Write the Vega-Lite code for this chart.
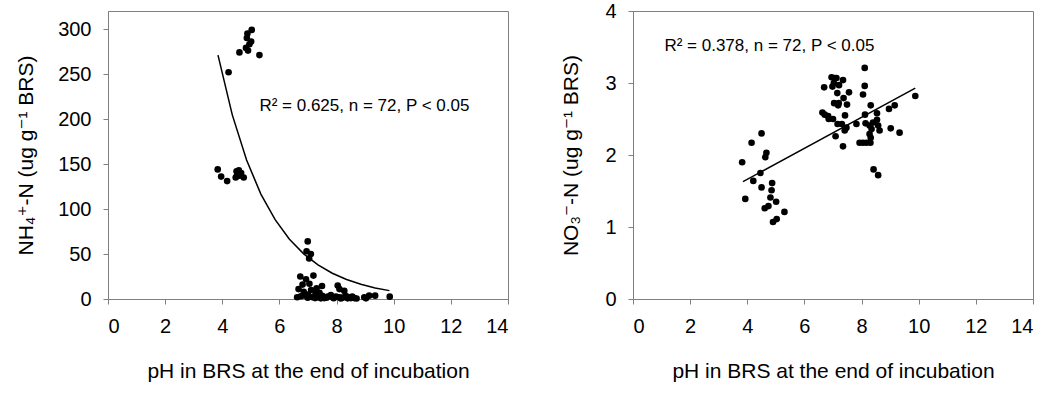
{
  "$schema": "https://vega.github.io/schema/vega-lite/v6.json",
  "padding": {"left": 15, "top": 0, "right": 0, "bottom": 0},
  "config": {
    "font": "Liberation Sans",
    "view": {"stroke": "#7f7f7f", "strokeWidth": 1},
    "axis": {
      "grid": false,
      "domainColor": "#7f7f7f",
      "tickColor": "#7f7f7f",
      "tickSize": 5,
      "labelPadding": 12,
      "labelFont": "Liberation Sans",
      "titleFont": "Liberation Sans, DejaVu Sans",
      "labelFontSize": 20,
      "titleFontSize": 21,
      "titleFontWeight": "normal",
      "labelColor": "#000000",
      "titleColor": "#000000"
    }
  },
  "datasets": {
    "nh4": [
      {"pH": 5.03, "NH4": 299}, {"pH": 4.88, "NH4": 295}, {"pH": 4.86, "NH4": 290}, {"pH": 5.01, "NH4": 286}, {"pH": 4.83, "NH4": 279},
      {"pH": 4.90, "NH4": 276}, {"pH": 4.60, "NH4": 274}, {"pH": 5.30, "NH4": 271}, {"pH": 4.22, "NH4": 252}, {"pH": 4.95, "NH4": 283},
      {"pH": 3.84, "NH4": 144}, {"pH": 3.96, "NH4": 136}, {"pH": 4.17, "NH4": 131}, {"pH": 4.47, "NH4": 135}, {"pH": 4.50, "NH4": 142},
      {"pH": 4.58, "NH4": 143}, {"pH": 4.66, "NH4": 140}, {"pH": 4.75, "NH4": 135}, {"pH": 4.60, "NH4": 137}, {"pH": 4.52, "NH4": 138},
      {"pH": 6.99, "NH4": 64}, {"pH": 6.95, "NH4": 53}, {"pH": 7.10, "NH4": 50}, {"pH": 7.04, "NH4": 45}, {"pH": 6.73, "NH4": 25},
      {"pH": 7.19, "NH4": 26}, {"pH": 6.93, "NH4": 22}, {"pH": 6.67, "NH4": 11}, {"pH": 6.81, "NH4": 16}, {"pH": 7.05, "NH4": 17},
      {"pH": 7.11, "NH4": 10}, {"pH": 6.62, "NH4": 2}, {"pH": 6.87, "NH4": 4}, {"pH": 7.22, "NH4": 3}, {"pH": 7.40, "NH4": 7},
      {"pH": 7.49, "NH4": 14.5}, {"pH": 7.34, "NH4": 2}, {"pH": 7.57, "NH4": 1}, {"pH": 7.80, "NH4": 4.5}, {"pH": 8.04, "NH4": 15},
      {"pH": 8.10, "NH4": 11}, {"pH": 8.27, "NH4": 9}, {"pH": 7.98, "NH4": 2.6}, {"pH": 8.21, "NH4": 1.5}, {"pH": 8.44, "NH4": 2},
      {"pH": 8.62, "NH4": 1}, {"pH": 8.97, "NH4": 2}, {"pH": 9.14, "NH4": 3.7}, {"pH": 9.35, "NH4": 3.7}, {"pH": 9.86, "NH4": 2.6},
      {"pH": 7.86, "NH4": 2}, {"pH": 8.33, "NH4": 3.3}, {"pH": 7.28, "NH4": 6.3}, {"pH": 7.45, "NH4": 0.7}, {"pH": 7.16, "NH4": 2},
      {"pH": 8.55, "NH4": 2.6}, {"pH": 9.03, "NH4": 0.7}, {"pH": 8.39, "NH4": 0.7}, {"pH": 6.99, "NH4": 1.5}, {"pH": 7.69, "NH4": 2.6},
      {"pH": 6.75, "NH4": 3}, {"pH": 7.00, "NH4": 5}, {"pH": 7.25, "NH4": 1}, {"pH": 7.50, "NH4": 3.5}, {"pH": 7.65, "NH4": 1.5},
      {"pH": 7.90, "NH4": 0.8}, {"pH": 8.10, "NH4": 2}, {"pH": 8.15, "NH4": 0.5}, {"pH": 8.50, "NH4": 1}, {"pH": 8.70, "NH4": 0.5},
      {"pH": 6.85, "NH4": 8}, {"pH": 7.30, "NH4": 12}
    ],
    "nh4fit": [
      {"pH": 3.85, "NH4": 271}, {"pH": 4.35, "NH4": 204.6}, {"pH": 4.85, "NH4": 154.5}, {"pH": 5.35, "NH4": 116.6},
      {"pH": 5.85, "NH4": 88.1}, {"pH": 6.35, "NH4": 66.5}, {"pH": 6.85, "NH4": 50.2}, {"pH": 7.35, "NH4": 37.9},
      {"pH": 7.85, "NH4": 28.6}, {"pH": 8.35, "NH4": 21.6}, {"pH": 8.85, "NH4": 16.3}, {"pH": 9.35, "NH4": 12.3},
      {"pH": 9.85, "NH4": 9.3}
    ],
    "no3": [
      {"pH": 3.82, "NO3": 1.90}, {"pH": 3.93, "NO3": 1.39}, {"pH": 4.15, "NO3": 2.17}, {"pH": 4.21, "NO3": 1.64}, {"pH": 4.50, "NO3": 2.30},
      {"pH": 4.46, "NO3": 1.75}, {"pH": 4.50, "NO3": 1.55}, {"pH": 4.67, "NO3": 2.03}, {"pH": 4.63, "NO3": 1.97}, {"pH": 4.61, "NO3": 1.26},
      {"pH": 4.74, "NO3": 1.29}, {"pH": 4.87, "NO3": 1.61}, {"pH": 4.85, "NO3": 1.51}, {"pH": 4.81, "NO3": 1.41}, {"pH": 5.01, "NO3": 1.35},
      {"pH": 5.03, "NO3": 1.11}, {"pH": 4.90, "NO3": 1.07}, {"pH": 5.30, "NO3": 1.21},
      {"pH": 6.63, "NO3": 2.59}, {"pH": 6.71, "NO3": 2.56}, {"pH": 6.83, "NO3": 2.54}, {"pH": 6.85, "NO3": 2.50}, {"pH": 7.00, "NO3": 2.50},
      {"pH": 6.69, "NO3": 2.94}, {"pH": 6.95, "NO3": 3.08}, {"pH": 7.05, "NO3": 3.07}, {"pH": 7.12, "NO3": 3.07}, {"pH": 6.98, "NO3": 2.95},
      {"pH": 7.03, "NO3": 3.00}, {"pH": 7.21, "NO3": 2.97}, {"pH": 7.35, "NO3": 3.04}, {"pH": 7.15, "NO3": 2.86}, {"pH": 7.56, "NO3": 2.87},
      {"pH": 7.37, "NO3": 2.79}, {"pH": 7.04, "NO3": 2.72}, {"pH": 7.20, "NO3": 2.72}, {"pH": 7.18, "NO3": 2.69}, {"pH": 7.49, "NO3": 2.70},
      {"pH": 7.42, "NO3": 2.55}, {"pH": 7.16, "NO3": 2.43}, {"pH": 7.31, "NO3": 2.43}, {"pH": 7.47, "NO3": 2.38}, {"pH": 7.41, "NO3": 2.34},
      {"pH": 7.09, "NO3": 2.26}, {"pH": 7.35, "NO3": 2.12}, {"pH": 7.82, "NO3": 2.43},
      {"pH": 8.11, "NO3": 3.21}, {"pH": 8.11, "NO3": 2.96}, {"pH": 8.05, "NO3": 2.84}, {"pH": 8.32, "NO3": 2.69}, {"pH": 8.12, "NO3": 2.56},
      {"pH": 8.14, "NO3": 2.44}, {"pH": 8.28, "NO3": 2.41}, {"pH": 8.54, "NO3": 2.58}, {"pH": 8.54, "NO3": 2.49}, {"pH": 8.58, "NO3": 2.41},
      {"pH": 8.35, "NO3": 2.36}, {"pH": 8.28, "NO3": 2.29}, {"pH": 8.32, "NO3": 2.24}, {"pH": 8.63, "NO3": 2.34}, {"pH": 7.93, "NO3": 2.17},
      {"pH": 8.05, "NO3": 2.17}, {"pH": 8.17, "NO3": 2.17}, {"pH": 8.31, "NO3": 2.17}, {"pH": 8.42, "NO3": 1.80}, {"pH": 8.58, "NO3": 1.72},
      {"pH": 8.96, "NO3": 2.64}, {"pH": 9.16, "NO3": 2.69}, {"pH": 9.02, "NO3": 2.37}, {"pH": 9.33, "NO3": 2.31}, {"pH": 9.88, "NO3": 2.82},
      {"pH": 8.40, "NO3": 2.45}
    ],
    "no3fit": [
      {"pH": 3.85, "NO3": 1.63}, {"pH": 9.88, "NO3": 2.93}
    ]
  },
  "hconcat": [
    {
      "width": 400,
      "height": 288,
      "layer": [
        {
          "data": {"name": "nh4"},
          "mark": {"type": "point", "filled": true, "color": "#000000", "opacity": 1, "size": 44},
          "encoding": {
            "x": {"field": "pH", "type": "quantitative", "scale": {"domain": [0, 14], "nice": false},
                  "axis": {"values": [0, 2, 4, 6, 8, 10, 12, 14], "title": "pH in BRS at the end of incubation", "titlePadding": 24}},
            "y": {"field": "NH4", "type": "quantitative", "scale": {"domain": [0, 320], "nice": false},
                  "axis": {"values": [0, 50, 100, 150, 200, 250, 300], "title": "NH₄⁺-N (ug g⁻¹ BRS)", "titlePadding": 21}}
          }
        },
        {
          "data": {"name": "nh4fit"},
          "mark": {"type": "line", "color": "#000000", "strokeWidth": 1.5},
          "encoding": {
            "x": {"field": "pH", "type": "quantitative"},
            "y": {"field": "NH4", "type": "quantitative"}
          }
        },
        {
          "data": {"values": [{}]},
          "mark": {"type": "text", "align": "left", "baseline": "alphabetic", "fontSize": 17, "color": "#000000"},
          "encoding": {
            "x": {"datum": 5.3},
            "y": {"datum": 209},
            "text": {"value": "R² = 0.625, n = 72, P < 0.05"}
          }
        }
      ]
    },
    {
      "width": 400,
      "height": 288,
      "layer": [
        {
          "data": {"name": "no3"},
          "mark": {"type": "point", "filled": true, "color": "#000000", "opacity": 1, "size": 44},
          "encoding": {
            "x": {"field": "pH", "type": "quantitative", "scale": {"domain": [0, 14], "nice": false},
                  "axis": {"values": [0, 2, 4, 6, 8, 10, 12, 14], "title": "pH in BRS at the end of incubation", "titlePadding": 24}},
            "y": {"field": "NO3", "type": "quantitative", "scale": {"domain": [0, 4], "nice": false},
                  "axis": {"values": [0, 1, 2, 3, 4], "format": "d", "title": "NO₃⁻-N (ug g⁻¹ BRS)", "titlePadding": 23}}
          }
        },
        {
          "data": {"name": "no3fit"},
          "mark": {"type": "line", "color": "#000000", "strokeWidth": 1.5},
          "encoding": {
            "x": {"field": "pH", "type": "quantitative"},
            "y": {"field": "NO3", "type": "quantitative"}
          }
        },
        {
          "data": {"values": [{}]},
          "mark": {"type": "text", "align": "left", "baseline": "alphabetic", "fontSize": 17, "color": "#000000"},
          "encoding": {
            "x": {"datum": 1.1},
            "y": {"datum": 3.45},
            "text": {"value": "R² = 0.378, n = 72, P < 0.05"}
          }
        }
      ]
    }
  ],
  "spacing": 125,
  "bounds": "flush"
}
